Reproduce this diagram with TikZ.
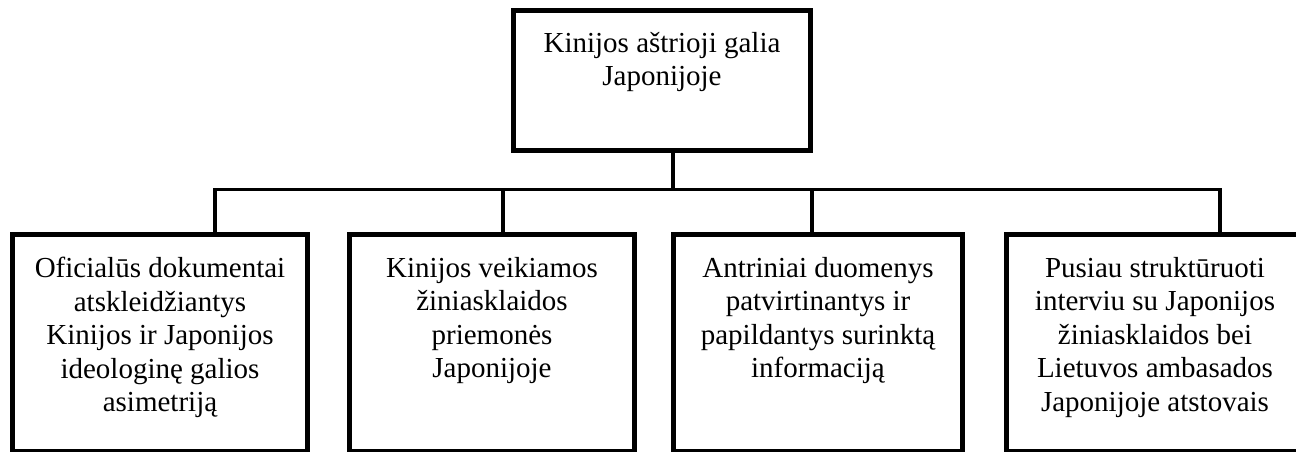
\documentclass[tikz,border=0pt]{standalone}
\usepackage{fontspec}
\setmainfont{Liberation Serif}
\begin{document}
\begin{tikzpicture}[x=1pt,y=-1pt,
  boxnode/.style={draw=black,line width=5pt,rectangle,inner sep=0pt},
  txtnode/.style={anchor=north,align=center,inner sep=0pt,font=\fontsize{29}{33.5}\selectfont},
  conn/.style={draw=black,line width=3.5pt}]
\useasboundingbox (0,0) rectangle (1296,451);
% boxes
\node[boxnode,minimum width=297pt,minimum height=140pt] (top) at (662,80.5) {};
\node[boxnode,minimum width=295pt,minimum height=216.5pt] (b1) at (160,342.75) {};
\node[boxnode,minimum width=285pt,minimum height=216.5pt] (b2) at (492,342.75) {};
\node[boxnode,minimum width=289pt,minimum height=216.5pt] (b3) at (818,342.75) {};
\node[boxnode,minimum width=297pt,minimum height=216.5pt] (b4) at (1155,342.75) {};
% texts
\node[txtnode] (ttop) at ([yshift=-24pt]top.north) {Kinijos aštrioji galia\\Japonijoje};
\node[txtnode] (t1) at ([yshift=-25pt]b1.north) {Oficialūs dokumentai\\atskleidžiantys\\Kinijos ir Japonijos\\ideologinę galios\\asimetriją};
\node[txtnode] (t2) at ([yshift=-25pt]b2.north) {Kinijos veikiamos\\žiniasklaidos\\priemonės\\Japonijoje};
\node[txtnode] (t3) at ([yshift=-25pt]b3.north) {Antriniai duomenys\\patvirtinantys ir\\papildantys surinktą\\informaciją};
\node[txtnode] (t4) at ([yshift=-25pt]b4.north) {Pusiau struktūruoti\\interviu su Japonijos\\žiniasklaidos bei\\Lietuvos ambasados\\Japonijoje atstovais};
% bus coordinates
\coordinate (jt) at (673,189.5);
\coordinate (j1) at (215,189.5);
\coordinate (j2) at (503,189.5);
\coordinate (j3) at (812,189.5);
\coordinate (j4) at (1220,189.5);
% connectors
\draw[conn] (top.south -| jt) -- (jt);
\draw[conn] (j1 |- b1.north) -- (j1) -- (j4) -- (j4 |- b4.north);
\draw[conn] (j2) -- (j2 |- b2.north);
\draw[conn] (j3) -- (j3 |- b3.north);
\end{tikzpicture}
\end{document}
